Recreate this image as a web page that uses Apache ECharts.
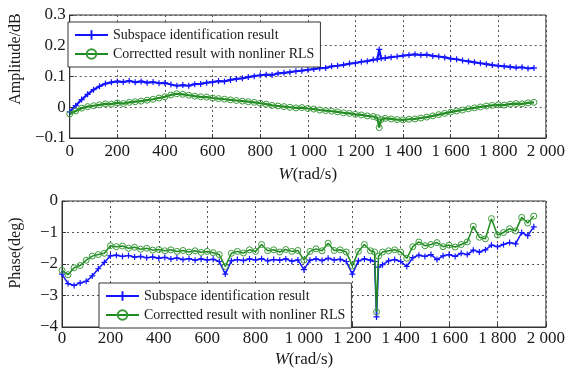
<!DOCTYPE html>
<html>
<head>
<meta charset="utf-8">
<script src="https://cdn.jsdelivr.net/npm/echarts@6/dist/echarts.min.js"></script>
<style>
html,body{margin:0;padding:0;background:#fff;}
#chart{width:568px;height:372px;}
</style>
</head>
<body>
<div id="chart"></div>
<script>
const W = [0,25,50,75,100,125,150,175,200,225,250,275,300,325,350,375,400,425,450,475,500,525,550,575,600,625,650,675,700,725,750,775,800,825,850,875,900,925,950,975,1000,1025,1050,1075,1100,1125,1150,1175,1200,1225,1250,1275,1292,1300,1308,1325,1350,1375,1400,1425,1450,1475,1500,1525,1550,1575,1600,1625,1650,1675,1700,1725,1750,1775,1800,1825,1850,1875,1900,1925,1950];

const ampSubspace = [-0.015,0.005,0.025,0.042,0.057,0.068,0.077,0.081,0.084,0.082,0.086,0.081,
0.084,0.080,0.082,0.078,0.079,0.074,0.070,0.072,0.070,0.075,0.076,0.080,
0.082,0.085,0.084,0.089,0.092,0.094,0.098,0.101,0.104,0.106,0.105,0.110,
0.112,0.114,0.117,0.119,0.122,0.124,0.127,0.128,0.133,0.135,0.138,0.142,
0.144,0.148,0.150,0.155,
0.156,0.188,0.159,
0.160,0.163,0.165,0.168,0.170,0.172,0.170,0.171,0.167,0.165,0.162,0.158,
0.156,0.152,0.149,0.146,0.143,0.140,0.137,0.135,0.133,0.131,0.129,0.130,
0.126,0.128];

const ampCorrected = [-0.022,-0.012,-0.003,0.002,0.005,0.008,0.011,0.010,0.014,0.012,0.016,0.018,
0.020,0.023,0.026,0.030,0.034,0.040,0.044,0.042,0.039,0.036,0.034,0.033,
0.030,0.028,0.026,0.024,0.022,0.020,0.018,0.016,0.013,0.010,0.006,0.004,
0.002,0.000,-0.002,-0.001,-0.004,-0.006,-0.009,-0.011,-0.013,-0.015,-0.018,-0.020,
-0.023,-0.025,-0.028,-0.030,
-0.034,-0.066,-0.040,
-0.036,-0.038,-0.040,-0.041,-0.039,-0.038,-0.035,-0.032,-0.028,-0.024,-0.020,-0.016,
-0.012,-0.009,-0.005,-0.002,0.001,0.004,0.006,0.008,0.007,0.010,0.012,0.011,
0.014,0.016];

const phaseSubspace = [-2.32,-2.62,-2.68,-2.60,-2.55,-2.38,-2.15,-1.95,-1.74,-1.72,-1.76,-1.73,
-1.78,-1.76,-1.80,-1.78,-1.82,-1.79,-1.84,-1.81,-1.86,-1.83,-1.88,-1.84,
-1.87,-1.85,-1.92,-2.32,-1.90,-1.86,-1.89,-1.84,-1.87,-1.83,-1.90,-1.86,
-1.88,-1.84,-1.91,-1.87,-2.18,-1.88,-1.84,-1.89,-1.82,-1.87,-1.85,-1.92,
-2.32,-1.90,-1.84,-1.88,
-1.92,-3.68,-2.10,
-2.02,-1.90,-1.86,-1.92,-2.08,-1.80,-1.72,-1.76,-1.70,-1.86,-1.74,-1.70,
-1.76,-1.66,-1.70,-1.56,-1.62,-1.55,-1.40,-1.45,-1.38,-1.32,-1.36,-1.00,
-1.10,-0.82];

const phaseCorrected = [-2.20,-2.34,-2.12,-2.05,-1.88,-1.75,-1.70,-1.66,-1.42,-1.45,-1.43,-1.50,
-1.47,-1.53,-1.50,-1.56,-1.54,-1.58,-1.55,-1.60,-1.57,-1.62,-1.58,-1.63,
-1.60,-1.64,-1.70,-2.08,-1.66,-1.60,-1.65,-1.55,-1.60,-1.38,-1.58,-1.55,
-1.62,-1.54,-1.60,-1.57,-1.88,-1.60,-1.52,-1.58,-1.34,-1.57,-1.55,-1.62,
-2.06,-1.60,-1.38,-1.58,
-1.62,-3.52,-1.75,
-1.62,-1.58,-1.55,-1.62,-1.82,-1.45,-1.30,-1.42,-1.38,-1.32,-1.45,-1.40,
-1.46,-1.38,-1.30,-0.80,-1.15,-1.20,-0.56,-1.08,-1.00,-0.88,-0.95,-0.52,
-0.70,-0.48];

const nameSub = 'Subspace identification result';
const nameCor = 'Correctted result with nonliner RLS';

const FONT = '"Liberation Serif", "DejaVu Serif", serif';
const BLUE = '#1414ff';
const GREEN = '#1f8a1f';
const PLUS = 'path://M4,0H6V4H10V6H6V10H4V6H0V4H4Z';

function pairs(xs, ys){ return xs.map((x,i)=>[x, ys[i]]); }
function fmtX(v){ if(v>=1000){ const s=String(v); return s.slice(0,s.length-3)+' '+s.slice(-3);} return String(v); }
function fmtY(d){ return function(v){ if(Math.abs(v)<1e-9) return '0'; const s = d>0? v.toFixed(d): String(Math.round(v)); return s.replace('-','\u2212'); }; }

function xAxisCfg(gi, gap, margin){
  return {
    type:'value', gridIndex:gi, min:0, max:2000, interval:200,
    axisLine:{show:true, onZero:false, lineStyle:{color:'#333', width:1}},
    axisTick:{show:true, inside:true, length:4, lineStyle:{color:'#333'}},
    axisLabel:{formatter:fmtX, fontFamily:FONT, fontSize:17, color:'#1a1a1a', margin:margin},
    splitLine:{show:true, lineStyle:{type:[2,3], color:'#555', width:1}},
    name:'{i|W}(rad/s)', nameLocation:'middle', nameGap:gap,
    nameTextStyle:{fontFamily:FONT, fontSize:17, color:'#1a1a1a',
      rich:{i:{fontFamily:FONT, fontSize:17, fontStyle:'italic', color:'#1a1a1a'}}}
  };
}
function yAxisCfg(gi, min, max, interval, dec, name, shift){
  return {
    type:'value', gridIndex:gi, min:min, max:max, interval:interval,
    axisLine:{show:true, onZero:false, lineStyle:{color:'#333', width:1}},
    axisTick:{show:true, inside:true, length:4, lineStyle:{color:'#333'}},
    axisLabel:{formatter:fmtY(dec), fontFamily:FONT, fontSize:17, color:'#1a1a1a', margin:4},
    splitLine:{show:true, lineStyle:{type:[2,3], color:'#555', width:1}},
    name:name, nameLocation:'middle', nameGap:38,
    nameTextStyle:{fontFamily:FONT, fontSize:16, color:'#1a1a1a', padding:[0,0,0,shift]}
  };
}
function legendCfg(left, top){
  return {
    orient:'vertical', left:left, top:top, data:[nameSub, nameCor],
    itemWidth:33, itemHeight:12, itemGap:5,
    padding:[6,6,6,6],
    borderColor:'#333', borderWidth:1, backgroundColor:'#fff',
    textStyle:{fontFamily:FONT, fontSize:14, color:'#1a1a1a'},
    selectedMode:false
  };
}
function lineSeries(name, xi, yi, data, color, symbol, size, isCircle, lw){
  return {
    name:name, type:'line', xAxisIndex:xi, yAxisIndex:yi, data:data,
    symbol:symbol, symbolSize:size, showSymbol:true,
    lineStyle:{color:color, width:lw},
    itemStyle: isCircle ? {color:'rgba(0,0,0,0)', borderColor:'#3a9a3a', borderWidth:1} : {color:color},
    animation:false, z: isCircle?3:2
  };
}

const chart = echarts.init(document.getElementById('chart'), null, {renderer:'canvas'});
chart.setOption({
  backgroundColor:'#fff',
  animation:false,
  grid:[
    {left:62, right:17, top:15, height:123, show:true, borderColor:'#333', borderWidth:1, backgroundColor:'transparent'},
    {left:62, right:17, top:201, height:126, show:true, borderColor:'#333', borderWidth:1, backgroundColor:'transparent'}
  ],
  xAxis:[xAxisCfg(0, 28, 5), xAxisCfg(1, 24, 3)],
  yAxis:[
    yAxisCfg(0, -0.1, 0.3, 0.1, 1, 'Amplitude/dB', 35),
    yAxisCfg(1, -4, 0, 1, 0, 'Phase(deg)', 22)
  ],
  legend:[legendCfg(68, 22), legendCfg(99, 283)],
  series:[
    lineSeries(nameSub, 0, 0, pairs(W, ampSubspace), BLUE, PLUS, 6, false, 2.2),
    lineSeries(nameCor, 0, 0, pairs(W, ampCorrected), GREEN, 'circle', 6, true, 2.2),
    lineSeries(nameSub, 1, 1, pairs(W, phaseSubspace), BLUE, PLUS, 6, false, 1.5),
    lineSeries(nameCor, 1, 1, pairs(W, phaseCorrected), GREEN, 'circle', 6, true, 1.5)
  ]
});
</script>
</body>
</html>
